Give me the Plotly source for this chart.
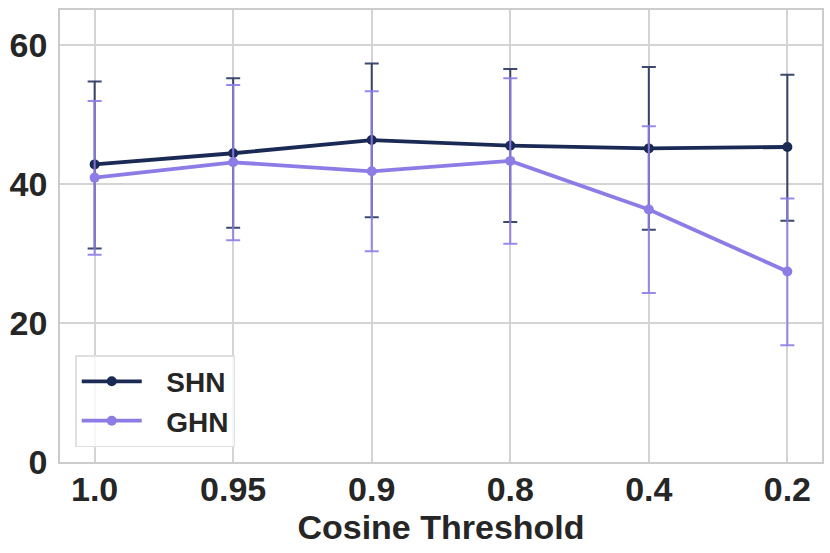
import plotly.graph_objects as go

categories = ["1.0", "0.95", "0.9", "0.8", "0.4", "0.2"]

shn_mean = [42.8, 44.4, 46.3, 45.5, 45.1, 45.3]
shn_low = [30.7, 33.7, 35.2, 34.5, 33.4, 34.7]
shn_high = [54.7, 55.2, 57.3, 56.5, 56.8, 55.7]

ghn_mean = [40.9, 43.1, 41.8, 43.3, 36.3, 27.4]
ghn_low = [29.8, 31.9, 30.3, 31.4, 24.3, 16.8]
ghn_high = [51.9, 54.2, 53.3, 55.2, 48.3, 37.9]

y_ticks = [0, 20, 40, 60]

SHN_COLOR = "#1b2a55"
GHN_COLOR = "#8e7ce6"
TEXT = "#262626"
FONT = "Liberation Sans, Arial, sans-serif"

xs = list(range(len(categories)))
PAD = "\u2002\u2009"


def trace(name, mean, low, high, color, err_color):
    return go.Scatter(
        x=xs, y=mean, name=PAD + name, mode="lines+markers",
        line=dict(color=color, width=3.8),
        marker=dict(color=color, size=10),
        error_y=dict(
            type="data", symmetric=False,
            array=[h - m for h, m in zip(high, mean)],
            arrayminus=[m - l for m, l in zip(mean, low)],
            color=err_color, thickness=2, width=7,
        ),
    )


fig = go.Figure()
fig.add_trace(trace("SHN", shn_mean, shn_low, shn_high, SHN_COLOR, "rgba(27,42,85,0.85)"))
fig.add_trace(trace("GHN", ghn_mean, ghn_low, ghn_high, GHN_COLOR, "rgba(142,124,230,0.9)"))

fig.update_layout(
    width=830, height=553,
    margin=dict(l=60, r=8, t=10, b=91),
    paper_bgcolor="white", plot_bgcolor="white",
    font=dict(family=FONT, color=TEXT, size=34, weight="bold"),
    showlegend=True,
    legend=dict(
        x=0.02, y=0.033, xanchor="left", yanchor="bottom",
        bgcolor="rgba(255,255,255,0.8)", bordercolor="#e0e0e0", borderwidth=1.5,
        font=dict(size=28, family=FONT, color=TEXT, weight="bold"),
        itemwidth=60, tracegroupgap=4,
    ),
    xaxis=dict(
        range=[-0.25, 5.25], tickmode="array", tickvals=xs, ticktext=categories,
        showgrid=True, gridcolor="#d4d4d4", gridwidth=1.5,
        showline=True, linecolor="#cccccc", linewidth=1.5, mirror=True,
        zeroline=False, ticks="", automargin=False, ticklabelstandoff=-4,
        tickfont=dict(size=34, weight="bold"),
        title=dict(text="Cosine Threshold", font=dict(size=34, weight="bold"), standoff=2),
    ),
    yaxis=dict(
        range=[0, 65], tickmode="array", tickvals=y_ticks,
        showgrid=True, gridcolor="#d4d4d4", gridwidth=1.5,
        showline=True, linecolor="#cccccc", linewidth=1.5, mirror=True,
        zeroline=False, ticks="outside", ticklen=4, tickcolor="rgba(0,0,0,0)",
        automargin=False,
        tickfont=dict(size=34, weight="bold"),
    ),
)

fig.write_html(
    "out.html",
    config={"displayModeBar": False},
    post_script="document.body.style.margin='0';document.body.style.overflow='hidden';",
)
